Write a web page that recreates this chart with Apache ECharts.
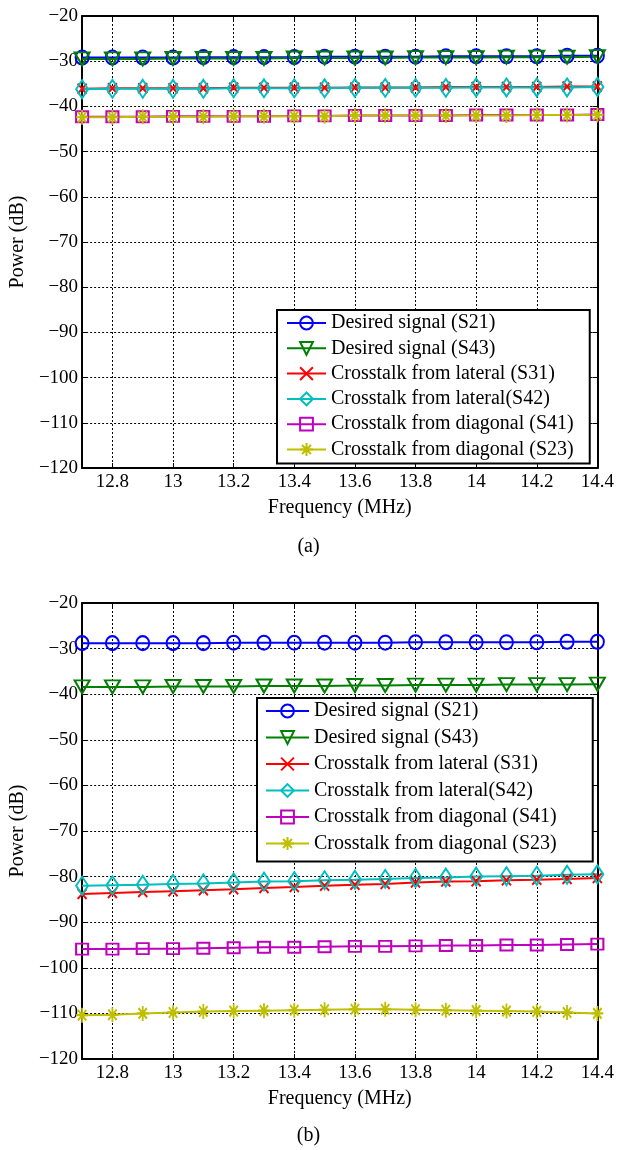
<!DOCTYPE html>
<html>
<head>
<meta charset="utf-8">
<script src="https://cdn.jsdelivr.net/npm/echarts@6/dist/echarts.min.js"></script>
<style>
html,body{margin:0;padding:0;background:#fff;}
#chart{width:617px;height:1150px;}
</style>
</head>
<body>
<div id="chart"></div>
<script>
// ---------- data ----------
const freq = [12.7,12.8,12.9,13.0,13.1,13.2,13.3,13.4,13.5,13.6,13.7,13.8,13.9,14.0,14.1,14.2,14.3,14.4];
const xTicks = [12.8,13.0,13.2,13.4,13.6,13.8,14.0,14.2,14.4];
const seriesNames = ['Desired signal (S21)','Desired signal (S43)','Crosstalk from lateral (S31)','Crosstalk from lateral(S42)','Crosstalk from diagonal (S41)','Crosstalk from diagonal (S23)'];
const panelLabels = ['(a)','(b)'];

// panel (a)
const a_S21 = [-29.2,-29.2,-29.2,-29.2,-29.1,-29.1,-29.1,-29.1,-29.0,-29.0,-29.0,-29.0,-28.9,-28.9,-28.9,-28.9,-28.8,-28.8];
const a_S43 = [-29.5,-29.5,-29.5,-29.4,-29.4,-29.4,-29.4,-29.3,-29.3,-29.3,-29.3,-29.2,-29.2,-29.2,-29.1,-29.1,-29.1,-29.0];
const a_S31 = [-36.1,-36.0,-36.0,-36.0,-36.0,-35.9,-35.9,-35.9,-35.9,-35.8,-35.8,-35.8,-35.7,-35.7,-35.7,-35.7,-35.6,-35.6];
const a_S42 = [-36.2,-36.1,-36.1,-36.1,-36.1,-36.0,-36.0,-36.0,-36.0,-35.9,-35.9,-35.9,-35.9,-35.8,-35.8,-35.8,-35.8,-35.7];
const a_S41 = [-42.3,-42.3,-42.3,-42.2,-42.2,-42.2,-42.2,-42.1,-42.1,-42.0,-42.0,-42.0,-42.0,-41.9,-41.9,-41.9,-41.9,-41.8];
const a_S23 = [-42.4,-42.4,-42.3,-42.3,-42.3,-42.2,-42.2,-42.2,-42.2,-42.0,-42.0,-42.0,-42.0,-42.0,-42.0,-41.9,-41.9,-41.9];

// panel (b)
const b_S21 = [-28.8,-28.8,-28.8,-28.8,-28.8,-28.7,-28.7,-28.7,-28.7,-28.7,-28.7,-28.6,-28.6,-28.6,-28.6,-28.6,-28.5,-28.5];
const b_S43 = [-38.4,-38.4,-38.4,-38.3,-38.3,-38.3,-38.2,-38.2,-38.2,-38.1,-38.1,-38.0,-38.0,-38.0,-37.9,-37.9,-37.9,-37.8];
const b_S31 = [-83.8,-83.6,-83.4,-83.2,-83.0,-82.8,-82.5,-82.3,-82.0,-81.8,-81.6,-81.3,-81.1,-81.0,-80.8,-80.7,-80.5,-80.3];
const b_S42 = [-82.0,-81.9,-81.8,-81.6,-81.5,-81.3,-81.1,-81.0,-80.8,-80.7,-80.5,-80.3,-80.2,-80.0,-79.9,-79.8,-79.6,-79.5];
const b_S41 = [-95.9,-95.9,-95.8,-95.8,-95.7,-95.6,-95.5,-95.5,-95.4,-95.3,-95.3,-95.2,-95.1,-95.1,-95.0,-95.0,-94.9,-94.8];
const b_S23 = [-110.4,-110.3,-110.0,-109.8,-109.6,-109.5,-109.4,-109.3,-109.2,-109.1,-109.1,-109.2,-109.3,-109.4,-109.5,-109.6,-109.8,-110.0];

// ---------- styles ----------
const FONT = 'Liberation Serif';
const styles = [
  {color:'#0000ff', symbol:'circle', size:[13,14], rotate:0},
  {color:'#008000', symbol:'triangle', size:[15,13], rotate:180},
  {color:'#ff0000', symbol:'path://M0,0L10,10M10,0L0,10', size:[9,10], rotate:0},
  {color:'#00bfbf', symbol:'diamond', size:[12,18], rotate:0},
  {color:'#bf00bf', symbol:'rect', size:[12,11], rotate:0},
  {color:'#bfbf00', symbol:'path://M5,0L5,10M0,5L10,5M1.5,1.5L8.5,8.5M8.5,1.5L1.5,8.5', size:[12,15], rotate:0}
];

const grids = [
  {left:78, top:16, width:520, height:452},
  {left:78, top:603, width:520, height:456}
];

function fmtY(v){ return String(v).replace('-', '\u2212'); }

const xAxis = [], yAxis = [];
grids.forEach((g, gi) => {
  xAxis.push({
    gridIndex: gi, type:'value', min:12.7, max:14.4, position:'bottom',
    axisLine:{onZero:false, lineStyle:{color:'#000', width:2}},
    axisTick:{inside:true, length:5, customValues:xTicks, lineStyle:{color:'#000', width:1}},
    axisLabel:{customValues:xTicks, margin:5, fontFamily:FONT, fontSize:19, color:'#000',
      formatter: v => String(Math.round(v*10)/10)},
    splitLine:{show:true, lineStyle:{type:[2,2], color:'#000', width:1}},
    name:'Frequency (MHz)', nameLocation:'middle', nameGap:30,
    nameTextStyle:{fontFamily:FONT, fontSize:20, color:'#000'}
  });
  xAxis.push({
    gridIndex: gi, type:'value', min:12.7, max:14.4, position:'top',
    axisLine:{onZero:false, lineStyle:{color:'#000', width:2}},
    axisTick:{inside:true, length:5, customValues:xTicks, lineStyle:{color:'#000', width:1}},
    axisLabel:{show:false}, splitLine:{show:false}
  });
  yAxis.push({
    gridIndex: gi, type:'value', min:-120, max:-20, interval:10, position:'left',
    axisLine:{show:true, onZero:false, lineStyle:{color:'#000', width:2}},
    axisTick:{show:true, inside:true, length:5, lineStyle:{color:'#000', width:1}},
    axisLabel:{margin:4, fontFamily:FONT, fontSize:19, color:'#000', formatter: fmtY},
    splitLine:{show:true, lineStyle:{type:[2,2], color:'#000', width:1}},
    name:'Power (dB)', nameLocation:'middle', nameGap:52, nameRotate:90,
    nameTextStyle:{fontFamily:FONT, fontSize:20, color:'#000'}
  });
  yAxis.push({
    gridIndex: gi, type:'value', min:-120, max:-20, interval:10, position:'right',
    axisLine:{show:true, onZero:false, lineStyle:{color:'#000', width:2}},
    axisTick:{show:true, inside:true, length:5, lineStyle:{color:'#000', width:1}},
    axisLabel:{show:false}, splitLine:{show:false}
  });
});

const panelData = [
  [a_S21, a_S43, a_S31, a_S42, a_S41, a_S23],
  [b_S21, b_S43, b_S31, b_S42, b_S41, b_S23]
];

const series = [];
panelData.forEach((arrs, gi) => {
  arrs.forEach((vals, si) => {
    const st = styles[si];
    series.push({
      name: seriesNames[si], type:'line',
      xAxisIndex: gi*2, yAxisIndex: gi*2,
      data: freq.map((f, i) => [f, vals[i]]),
      symbol: st.symbol, symbolSize: st.size, symbolRotate: st.rotate,
      showAllSymbol: true, silent: true, animation:false,
      lineStyle:{color: st.color, width:2},
      itemStyle:{color:'transparent', borderColor: st.color, borderWidth:2},
      emphasis:{disabled:true}
    });
  });
});

const legendBase = {
  orient:'vertical', data: seriesNames, selectedMode:false,
  itemHeight:16, borderColor:'#000', borderWidth:2, backgroundColor:'#fff',
  textStyle:{fontFamily:FONT, fontSize:20, color:'#000', lineHeight:20}
};

const option = {
  backgroundColor:'#fff',
  animation:false,
  grid: grids.map(g => Object.assign({containLabel:false}, g)),
  xAxis, yAxis, series,
  legend: [
    Object.assign({}, legendBase, {left:277, top:310, itemWidth:39, itemGap:5.3, padding:[3,16,4,9]}),
    Object.assign({}, legendBase, {left:257, top:698, itemWidth:43, itemGap:6.5, padding:[3,36,8,8]})
  ],
  graphic: [
    {type:'text', left:'center', top:537, style:{text:panelLabels[0], font:'20px "' + FONT + '"', fill:'#000'}, x:10},
    {type:'text', left:'center', top:1126, style:{text:panelLabels[1], font:'20px "' + FONT + '"', fill:'#000'}, x:10}
  ]
};

const chart = echarts.init(document.getElementById('chart'), null, {renderer:'canvas'});
chart.setOption(option);
</script>
</body>
</html>
